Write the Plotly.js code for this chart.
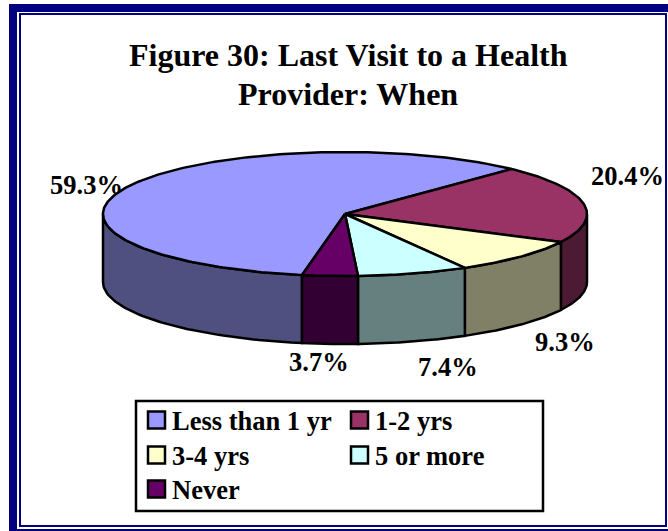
<!DOCTYPE html>
<html><head><meta charset="utf-8">
<script src="https://cdn.plot.ly/plotly-3.0.1.min.js"></script>
<style>html,body{margin:0;padding:0;background:#fff;overflow:hidden}</style>
</head><body><div id="chart" style="width:668px;height:531px"></div>
<script>
var categories = ["Less than 1 yr","1-2 yrs","3-4 yrs","5 or more","Never"];
var values = [59.3,20.4,9.3,7.4,3.7];
var valueLabels = ["59.3%","20.4%","9.3%","7.4%","3.7%"];
var topColors = ["#9999FF","#993366","#FFFFCC","#CCFFFF","#660066"];
var wallColors = ["#4F4F80","#4D1A33","#808066","#668080","#330033"];

var CX=345, CY=214, RX=242, RY=62, DEPTH=68, START=46.5;
var FONT="Liberation Serif, Times New Roman, serif";
var total=values.reduce(function(a,b){return a+b;},0);

function px(t){return CX+RX*Math.cos(t*Math.PI/180);}
function py(t,d){return CY-RY*Math.sin(t*Math.PI/180)+(d||0);}

var ranges=[];
ranges[0]=[START+values[0]/total*360, START];
var a=START;
for(var i=1;i<values.length;i++){var b=a-values[i]/total*360; ranges[i]=[a,b]; a=b;}

var traces=[];
function poly(xs,ys,color,w){
  xs.push(xs[0]);ys.push(ys[0]);
  traces.push({type:"scatter",mode:"lines",x:xs,y:ys,fill:"toself",fillcolor:color,
    line:{color:"#000",width:w===undefined?2.5:w,shape:"linear"},hoverinfo:"skip",showlegend:false});
}
values.forEach(function(v,i){
  var hi=ranges[i][0], lo=ranges[i][1];
  [0,-360,360].forEach(function(o){
    var h=Math.min(hi+o,0), l=Math.max(lo+o,-180);
    if(h>l){
      var xs=[],ys=[],t;
      for(t=0;t<=60;t++){var q=h+(l-h)*t/60;xs.push(px(q));ys.push(py(q,0));}
      for(t=60;t>=0;t--){var q2=h+(l-h)*t/60;xs.push(px(q2));ys.push(py(q2,DEPTH));}
      poly(xs,ys,wallColors[i]);
    }
  });
});
values.forEach(function(v,i){
  var hi=ranges[i][0], lo=ranges[i][1], xs=[CX], ys=[CY], n=Math.max(8,Math.round(hi-lo));
  for(var t=0;t<=n;t++){var q=hi+(lo-hi)*t/n;xs.push(px(q));ys.push(py(q,0));}
  poly(xs,ys,topColors[i]);
});

var labelPos=[[86.5,185],[627.5,176],[564.5,342],[448,367],[318.5,362]];
var annotations=valueLabels.map(function(s,i){
  return {xref:"x",yref:"y",x:labelPos[i][0],y:labelPos[i][1],text:"<b>"+s+"</b>",showarrow:false,
    font:{family:FONT,size:26.5,color:"#000"},xanchor:"center",yanchor:"middle"};
});
annotations.push({xref:"x",yref:"y",x:348,y:55,text:"<b>Figure 30: Last Visit to a Health</b>",showarrow:false,
    font:{family:FONT,size:32,color:"#000"},xanchor:"center",yanchor:"middle"});
annotations.push({xref:"x",yref:"y",x:348,y:94,text:"<b>Provider: When</b>",showarrow:false,
    font:{family:FONT,size:32,color:"#000"},xanchor:"center",yanchor:"middle"});

var shapes=[];
function rect(x0,y0,x1,y1,fill,lw,lc){
  shapes.push({type:"rect",xref:"x",yref:"y",x0:x0,y0:y0,x1:x1,y1:y1,layer:"below",
    fillcolor:fill||"rgba(0,0,0,0)",line:{color:lc||"#000",width:lw||0}});
}
rect(9,4,668,531,"#000080");
rect(17,12,668,529,"#fff");
rect(19,13,667,527,"#000080");
rect(21,15,665,525,"#fff");
rect(136,401,543,511,"#fff",2.5);
var legendCells=[[148,420],[351,420],[148,455],[351,455],[148,489]];
var legendTextX=[170,373,170,373,170];
categories.forEach(function(c,i){
  var p=legendCells[i];
  shapes.push({type:"rect",xref:"x",yref:"y",x0:p[0],y0:p[1]-8.5,x1:p[0]+17,y1:p[1]+8.5,layer:"above",
    fillcolor:topColors[i],line:{color:"#000",width:2.5}});
  annotations.push({xref:"x",yref:"y",x:legendTextX[i],y:p[1]+1,text:"<b>"+c+"</b>",showarrow:false,
    font:{family:FONT,size:26.5,color:"#000"},xanchor:"left",yanchor:"middle"});
});

Plotly.newPlot("chart",traces,{
  width:668,height:531,margin:{l:0,r:0,t:0,b:0},paper_bgcolor:"#fff",plot_bgcolor:"#fff",
  showlegend:false,hovermode:false,
  xaxis:{range:[0,668],visible:false,fixedrange:true},
  yaxis:{range:[531,0],visible:false,fixedrange:true},
  shapes:shapes,annotations:annotations
},{displayModeBar:false,staticPlot:true});
</script></body></html>
